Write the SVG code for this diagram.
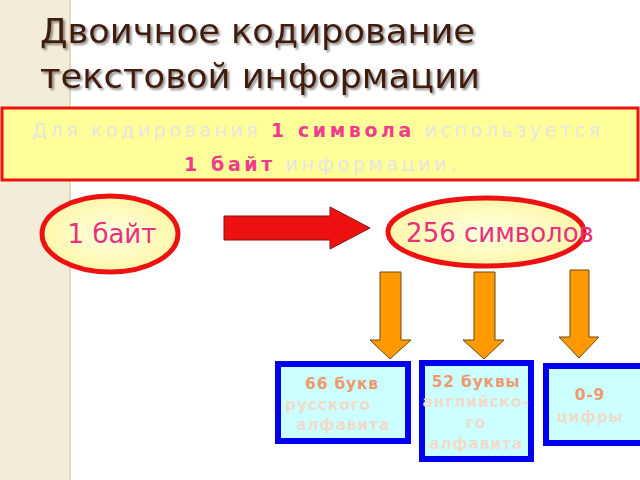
<svg xmlns="http://www.w3.org/2000/svg" width="640" height="480" viewBox="0 0 640 480">
<defs>
<radialGradient id="eg" cx="0.5" cy="0.5" r="0.6"><stop offset="0" stop-color="#ffffe0"/><stop offset="1" stop-color="#fff6a0"/></radialGradient>
<filter id="sh" x="-5%" y="-20%" width="110%" height="140%"><feDropShadow dx="2" dy="2" stdDeviation="0.8" flood-color="#000" flood-opacity="0.45"/></filter>
<style>
text{font-family:"DejaVu Sans","Noto Sans",sans-serif}
.t{font-size:34px;fill:#3f1a10;filter:url(#sh)}
.g{fill:#e6e6e0}
.p{fill:#f03c8c;font-weight:bold}
.ell{fill:url(#eg);stroke:#ee1111;stroke-width:5}
.oa{fill:#ff9900;stroke:#6b4a10;stroke-width:1}
.bx{fill:#ccffff;stroke:#0000ee;stroke-width:6}
.bt{font-size:15.5px;font-weight:bold;text-anchor:middle;letter-spacing:0.8px}
.o{fill:#ee9a70}
.l{fill:#eedccc}
</style>
</defs>
<rect width="640" height="480" fill="#fff"/>
<rect width="70" height="480" fill="#f3ecd8"/>
<line x1="70" y1="0" x2="70" y2="480" stroke="#e3d8bc" stroke-width="2"/>
<g id="title">
<text class="t" x="40" y="43" textLength="435" lengthAdjust="spacingAndGlyphs">Двоичное кодирование</text>
<text class="t" x="40" y="88" textLength="440" lengthAdjust="spacingAndGlyphs">текстовой информации</text>
</g>
<g id="info">
<rect x="2" y="108" width="636" height="72" fill="#ffff99" stroke="#ee1111" stroke-width="3"/>
<text x="316" y="137" font-size="19" text-anchor="middle" textLength="568" lengthAdjust="spacing"><tspan class="g">Для кодирования </tspan><tspan class="p">1 символа</tspan><tspan class="g"> используется</tspan></text>
<text x="320" y="171" font-size="19" text-anchor="middle" textLength="272" lengthAdjust="spacing"><tspan class="p">1 байт</tspan><tspan class="g"> информации.</tspan></text>
</g>
<g id="byte">
<ellipse class="ell" cx="110" cy="234" rx="68" ry="38"/>
<text x="112" y="243" font-size="26" fill="#e8307e" text-anchor="middle">1 байт</text>
</g>
<g id="symbols">
<ellipse class="ell" cx="486" cy="232" rx="98" ry="34"/>
<text x="500" y="242" font-size="26" fill="#e8307e" text-anchor="middle">256 символов</text>
</g>
<g id="connectors">
<path d="M224,216 H330 V207 L370,228 L330,249 V240 H224 Z" fill="#ee1111" stroke="#8a1010" stroke-width="1"/>
<path class="oa" d="M380,272 H401 V340 H411 L390,359 L370,340 H380 Z"/>
<path class="oa" d="M474,272 H495 V340 H504 L484,359 L463,340 H474 Z"/>
<path class="oa" d="M570,270 H589 V337 H599 L579,358 L559,337 H570 Z"/>
</g>
<g id="rus">
<rect class="bx" x="278" y="364" width="130" height="77"/>
<text class="bt o" x="342" y="389">66 букв</text>
<text class="bt l" x="328" y="410">русского</text>
<text class="bt l" x="343" y="430">алфавита</text>
</g>
<g id="eng">
<rect class="bx" x="422" y="363" width="109" height="96"/>
<text class="bt o" x="476" y="387">52 буквы</text>
<text class="bt l" x="476" y="407">английско-</text>
<text class="bt l" x="476" y="428">го</text>
<text class="bt l" x="476" y="449">алфавита</text>
</g>
<g id="digits">
<rect class="bx" x="546" y="366" width="100" height="77"/>
<text class="bt o" x="590" y="400">0-9</text>
<text class="bt l" x="590" y="422">цифры</text>
</g>
</svg>
